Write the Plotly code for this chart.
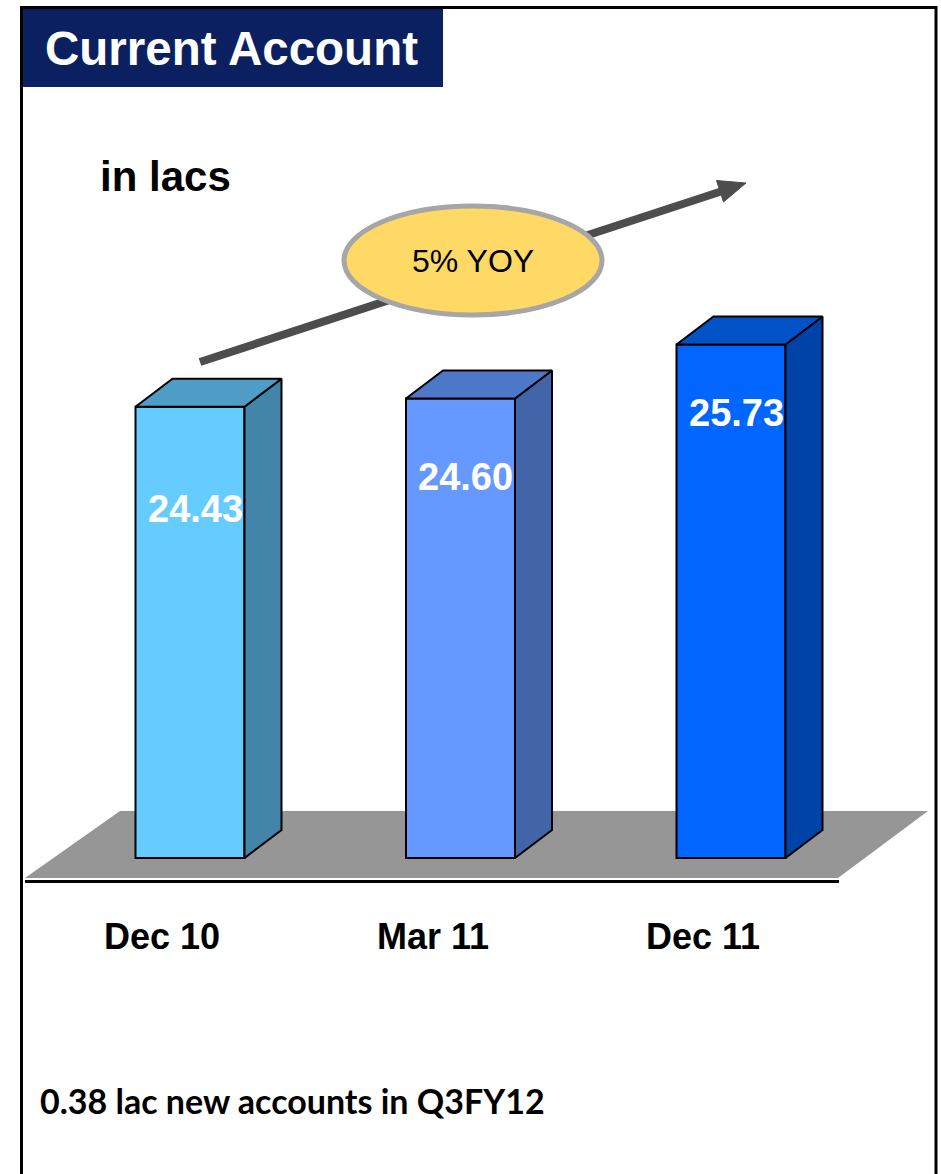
import plotly.graph_objects as go

# ---- data -------------------------------------------------------------
categories = ["Dec 10", "Mar 11", "Dec 11"]
accounts_lacs = [24.43, 24.60, 25.73]
value_labels = ["24.43", "24.60", "25.73"]
growth_label = "5% YOY"
title_text = "Current Account"
unit_text = "in lacs"
footnote = "0.38 lac new accounts in Q3FY12"

# ---- styling ----------------------------------------------------------
front_colors = ["#66CCFF", "#6699FF", "#0066FF"]
side_colors = ["#4285A8", "#4264A8", "#0043A8"]
top_colors = ["#4F9DC6", "#4D78C8", "#0052C6"]
NAVY = "#0A2060"
FLOOR = "#969696"
ARROW = "#4D4D4D"

W, H = 941, 1174
AXIS_MIN = 15.0

# axis geometry (pixels): first category centre, category step, value scale
X0_PX, X_STEP_PX = 190.0, 270.5
Y0_PX, Y_UNIT_PX = 858.0, 47.86
BAR_W = 109 / X_STEP_PX
DEPTH_X = 37 / X_STEP_PX
DEPTH_Y = 28 / Y_UNIT_PX

x_range = [-X0_PX / X_STEP_PX, (W - X0_PX) / X_STEP_PX]
y_range = [AXIS_MIN - (H - Y0_PX) / Y_UNIT_PX, AXIS_MIN + Y0_PX / Y_UNIT_PX]


def px(x):
    return x / W


def py(y):
    return 1 - y / H


fig = go.Figure()

xs = list(range(len(categories)))

# front faces
fig.add_trace(go.Bar(
    x=xs, y=[v - AXIS_MIN for v in accounts_lacs], base=AXIS_MIN,
    width=BAR_W,
    marker=dict(color=front_colors, line=dict(color="black", width=2)),
    hoverinfo="skip", showlegend=False,
))

# side and top faces for the 3D look
for i, v in enumerate(accounts_lacs):
    xl, xr = i - BAR_W / 2, i + BAR_W / 2
    fig.add_trace(go.Scatter(
        x=[xr, xr, xr + DEPTH_X, xr + DEPTH_X, xr],
        y=[AXIS_MIN, v, v + DEPTH_Y, AXIS_MIN + DEPTH_Y, AXIS_MIN],
        mode="lines", fill="toself", fillcolor=side_colors[i],
        line=dict(color="black", width=2), hoverinfo="skip", showlegend=False,
    ))
    fig.add_trace(go.Scatter(
        x=[xl, xr, xr + DEPTH_X, xl + DEPTH_X, xl],
        y=[v, v, v + DEPTH_Y, v + DEPTH_Y, v],
        mode="lines", fill="toself", fillcolor=top_colors[i],
        line=dict(color="black", width=2), hoverinfo="skip", showlegend=False,
    ))

# value labels inside the bars
label_drop = [2.14, 1.64, 1.43]
for i, (v, t) in enumerate(zip(accounts_lacs, value_labels)):
    fig.add_annotation(
        x=i + 5 / X_STEP_PX, y=v - label_drop[i], xref="x", yref="y",
        text=t, showarrow=False, xanchor="center", yanchor="middle",
        font=dict(family="Liberation Sans, Arial", size=38, color="white", weight="bold"),
    )

# category labels
for i, c in enumerate(categories):
    fig.add_annotation(
        x=i - 28 / X_STEP_PX, y=AXIS_MIN - 78 / Y_UNIT_PX, xref="x", yref="y",
        text=c, showarrow=False, xanchor="center", yanchor="middle",
        font=dict(family="Liberation Sans, Arial", size=36, color="black", weight="bold"),
    )

shapes = []
# grey floor
floor_pts = [(120, 811), (928, 811), (838, 878), (25, 878)]
path = "M " + " L ".join(f"{px(a):.5f},{py(b):.5f}" for a, b in floor_pts) + " Z"
shapes.append(dict(type="path", path=path, xref="paper", yref="paper",
                   fillcolor=FLOOR, line=dict(width=0), layer="below"))
# base line
shapes.append(dict(type="line", xref="paper", yref="paper",
                   x0=px(25), x1=px(839), y0=py(881.5), y1=py(881.5),
                   line=dict(color="black", width=3)))
# trend arrow
shapes.append(dict(type="line", xref="paper", yref="paper",
                   x0=px(200), y0=py(362), x1=px(724), y1=py(190.5),
                   line=dict(color=ARROW, width=8)))
head = [(746, 183), (723.5, 202), (716.5, 180.5)]
path = "M " + " L ".join(f"{px(a):.5f},{py(b):.5f}" for a, b in head) + " Z"
shapes.append(dict(type="path", path=path, xref="paper", yref="paper",
                   fillcolor=ARROW, line=dict(color=ARROW, width=1)))
# growth ellipse
shapes.append(dict(type="circle", xref="paper", yref="paper",
                   x0=px(344), x1=px(602), y0=py(206), y1=py(315),
                   fillcolor="#FFD966", line=dict(color="#A6A6A6", width=5)))
# title box
shapes.append(dict(type="rect", xref="paper", yref="paper",
                   x0=px(22), x1=px(443), y0=py(9), y1=py(87),
                   fillcolor=NAVY, line=dict(width=0)))
# outer frame
shapes.append(dict(type="rect", xref="paper", yref="paper",
                   x0=px(21.5), x1=px(936), y0=py(7.5), y1=py(1185),
                   line=dict(color="black", width=3), fillcolor="rgba(0,0,0,0)"))

fig.add_annotation(x=px(473), y=py(261), xref="paper", yref="paper",
                   text=growth_label, showarrow=False, xanchor="center", yanchor="middle",
                   font=dict(family="Liberation Sans, Arial", size=32, color="black"))
fig.add_annotation(x=px(43), y=py(48), xref="paper", yref="paper",
                   text=title_text, showarrow=False, xanchor="left", yanchor="middle",
                   font=dict(family="Liberation Sans, Arial", size=47.5, color="white", weight="bold"))
fig.add_annotation(x=px(98), y=py(176), xref="paper", yref="paper",
                   text=unit_text, showarrow=False, xanchor="left", yanchor="middle",
                   font=dict(family="Liberation Sans, Arial", size=42, color="black", weight="bold"))
fig.add_annotation(x=px(38), y=py(1100), xref="paper", yref="paper",
                   text=footnote, showarrow=False, xanchor="left", yanchor="middle",
                   font=dict(family="Lato", size=34, color="black", weight="bold"))

fig.update_layout(
    width=W, height=H, margin=dict(l=0, r=0, t=0, b=0),
    paper_bgcolor="white", plot_bgcolor="white",
    xaxis=dict(range=x_range, visible=False, fixedrange=True),
    yaxis=dict(range=y_range, visible=False, fixedrange=True),
    shapes=shapes, showlegend=False,
)

fig.write_html("out.html")
